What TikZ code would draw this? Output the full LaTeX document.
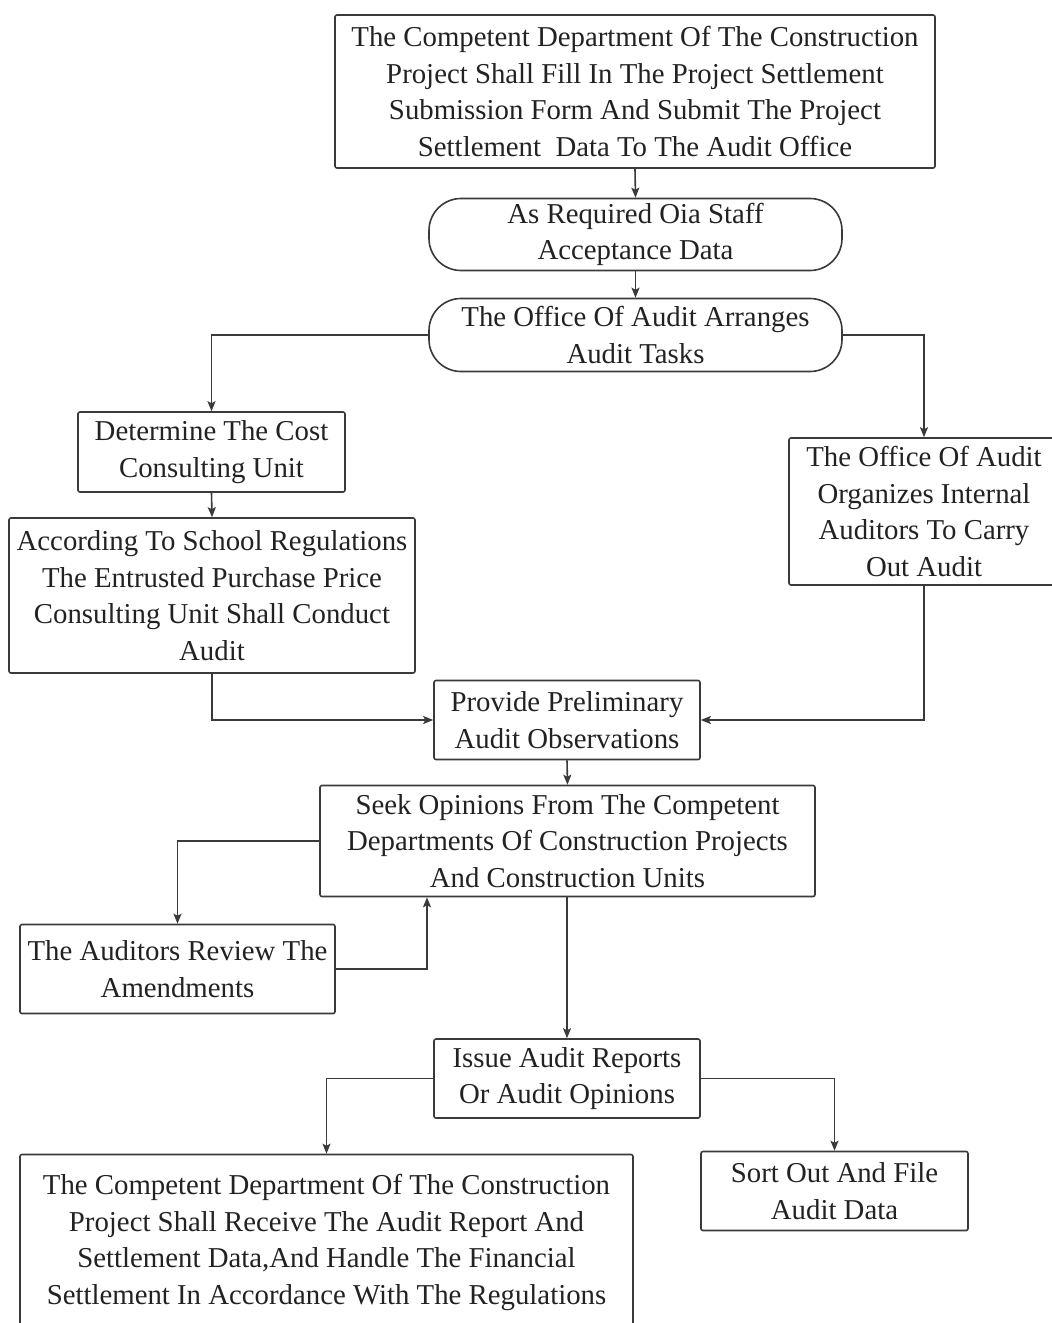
\documentclass[tikz,border=0pt]{standalone}
\usepackage{fontspec}
\setmainfont{Liberation Serif}
\usetikzlibrary{arrows.meta}
\definecolor{linec}{HTML}{3A3A3A}
\definecolor{textc}{HTML}{222222}
\begin{document}
\begin{tikzpicture}[x=1pt,y=-1pt,
  box/.style={draw=linec, line width=1.6pt, rounded corners=2pt, align=center,
    text=textc, inner sep=0pt, font=\fontsize{28.8}{36.5}\selectfont},
  pill/.style={box, rounded corners=32pt},
  arr/.style={draw=linec, line width=1.6pt, -{Stealth[length=10pt,width=8pt,inset=2pt]}}]
\useasboundingbox[fill=white] (0,0) rectangle (1052,1323);
\node[box, minimum width=600pt, minimum height=153pt] (n1) at (635,91.5)
  {The Competent Department Of The Construction\\Project Shall Fill In The Project Settlement\\Submission Form And Submit The Project\\Settlement\ \ Data To The Audit Office};
\node[pill, minimum width=413pt, minimum height=72pt] (n2) at (635.5,234.5)
  {As Required Oia Staff\\Acceptance Data};
\node[pill, minimum width=413pt, minimum height=73pt] (n3) at (635.5,335)
  {The Office Of Audit Arranges\\Audit Tasks};
\node[box, minimum width=267pt, minimum height=80pt] (n4) at (211.5,452)
  {Determine The Cost\\Consulting Unit};
\node[box, minimum width=406pt, minimum height=155pt] (n5) at (212,595.5)
  {According To School Regulations\\The Entrusted Purchase Price\\Consulting Unit Shall Conduct\\Audit};
\node[box, minimum width=270pt, minimum height=147pt] (n6) at (924,511.5)
  {The Office Of Audit\\Organizes Internal\\Auditors To Carry\\Out Audit};
\node[box, minimum width=266pt, minimum height=79pt] (n7) at (567,720)
  {Provide Preliminary\\Audit Observations};
\node[box, minimum width=495pt, minimum height=111pt] (n8) at (567.5,841)
  {Seek Opinions From The Competent\\Departments Of Construction Projects\\And Construction Units};
\node[box, minimum width=315pt, minimum height=89pt] (n9) at (177.5,969)
  {The Auditors Review The\\Amendments};
\node[box, minimum width=266pt, minimum height=79pt] (n10) at (567,1078.5)
  {Issue Audit Reports\\Or Audit Opinions};
\node[box, minimum width=613pt, minimum height=176pt] (n11) at (326.5,1242.5)
  {The Competent Department Of The Construction\\Project Shall Receive The Audit Report And\\Settlement Data,And Handle The Financial\\Settlement In Accordance With The Regulations};
\node[box, minimum width=267pt, minimum height=79pt] (n12) at (834.5,1191)
  {Sort Out And File\\Audit Data};
\draw[arr] (n1.south) -- (n2.north);
\draw[arr] (n2.south) -- (n3.north);
\draw[arr] (n3.west) -| (n4.north);
\draw[arr] (n3.east) -| (n6.north);
\draw[arr] (n4.south) -- (n5.north);
\draw[arr] (n5.south) |- (n7.west);
\draw[arr] (n6.south) |- (n7.east);
\draw[arr] (n7.south) -- (n8.north);
\draw[arr] (n8.west) -| (n9.north);
\draw[arr] (n9.east) -| ([xshift=-140.5pt]n8.south);
\draw[arr] (n8.south -| n10.north) -- (n10.north);
\draw[arr] (n10.west) -| (n11.north);
\draw[arr] (n10.east) -| (n12.north);
\end{tikzpicture}
\end{document}
